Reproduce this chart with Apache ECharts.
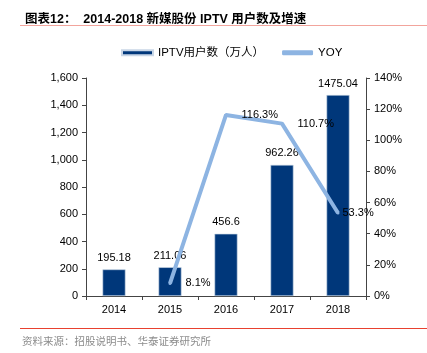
<!DOCTYPE html>
<html>
<head>
<meta charset="utf-8">
<script src="https://cdn.jsdelivr.net/npm/echarts@6/dist/echarts.min.js"></script>
<style>
  html, body { margin: 0; padding: 0; background: #fff; }
  #main { width: 427px; height: 353px; }
</style>
</head>
<body>
<div id="main"></div>
<script>
// 数据
const years = ['2014', '2015', '2016', '2017', '2018'];
const users = [195.18, 211.06, 456.6, 962.26, 1475.04];
const yoy = [null, 8.1, 116.3, 110.7, 53.3];

const font = '"Liberation Sans", Arial, "Noto Sans CJK SC", sans-serif';

// 2018年的标签贴着数据点
const yoyData = yoy.map(function (v, i) {
  return i === 4 ? { value: v, label: { distance: 3 } } : v;
});

var myChart = echarts.init(document.getElementById('main'));

var option = {
  backgroundColor: '#fff',
  animation: false,
  textStyle: { fontFamily: font },
  title: {
    text: '图表12：  2014-2018 新媒股份 IPTV 用户数及增速',
    left: 20,
    top: 8,
    textStyle: { fontSize: 12.5, fontWeight: 'bold', color: '#000', fontFamily: font }
  },
  legend: {
    top: 42,
    left: 116,
    itemWidth: 31,
    itemHeight: 5,
    itemGap: 18,
    textStyle: { fontSize: 11.5, color: '#000' },
    data: [
      { name: 'IPTV用户数（万人）', icon: 'rect' },
      { name: 'YOY', icon: 'roundRect' }
    ]
  },
  grid: { left: 86, right: 61, top: 78, bottom: 57 },
  xAxis: {
    type: 'category',
    data: years,
    axisLine: { lineStyle: { color: '#444', width: 1 } },
    axisTick: { show: true, length: 4, lineStyle: { color: '#444' } },
    axisLabel: { color: '#000', fontSize: 11, margin: 8 }
  },
  yAxis: [
    {
      type: 'value',
      min: 0, max: 1600, interval: 200,
      axisLine: { show: true, lineStyle: { color: '#444' } },
      axisTick: { show: true, length: 4, lineStyle: { color: '#444' } },
      splitLine: { show: false },
      axisLabel: {
        color: '#000', fontSize: 11, margin: 8,
        formatter: function (v) { return v.toString().replace(/\B(?=(\d{3})+(?!\d))/g, ','); }
      }
    },
    {
      type: 'value',
      min: 0, max: 140, interval: 20,
      axisLine: { show: true, lineStyle: { color: '#444' } },
      axisTick: { show: true, length: 4, lineStyle: { color: '#444' } },
      splitLine: { show: false },
      axisLabel: { color: '#000', fontSize: 11, margin: 8, formatter: '{value}%' }
    }
  ],
  series: [
    {
      name: 'IPTV用户数（万人）',
      type: 'bar',
      data: users,
      barWidth: 23,
      itemStyle: { color: '#00377A', borderColor: '#c9d6e6', borderWidth: 0.6 },
      label: { show: true, position: 'top', distance: 6, color: '#000', fontSize: 11 }
    },
    {
      name: 'YOY',
      type: 'line',
      yAxisIndex: 1,
      data: yoyData,
      showSymbol: true,
      symbol: 'circle',
      symbolSize: 3,
      lineStyle: { color: '#8DB4E2', width: 4 },
      itemStyle: { color: '#8DB4E2' },
      label: {
        show: true, position: 'right', distance: 14, color: '#000', fontSize: 11,
        formatter: function (p) { return p.value + '%'; }
      },
      labelLayout: { hideOverlap: false }
    }
  ],
  graphic: [
    { type: 'line', shape: { x1: 20, y1: 25.5, x2: 427, y2: 25.5 }, style: { stroke: '#F2A49C', lineWidth: 1.2 } },
    { type: 'line', shape: { x1: 20, y1: 328.5, x2: 427, y2: 328.5 }, style: { stroke: '#E8412F', lineWidth: 1 } },
    {
      type: 'text', left: 22, top: 337,
      style: { text: '资料来源：招股说明书、华泰证券研究所', fill: '#8c8c8c', fontSize: 10.5, fontFamily: font }
    }
  ]
};

myChart.setOption(option);
</script>
</body>
</html>
